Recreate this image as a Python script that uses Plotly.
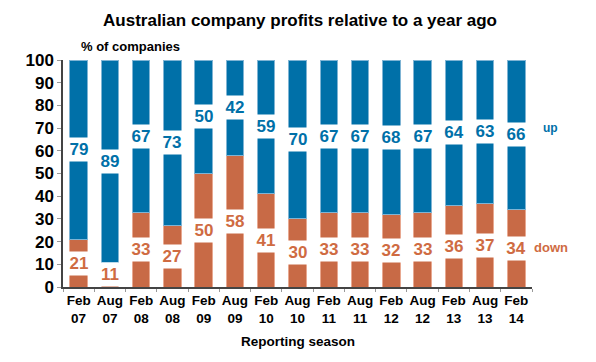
import plotly.graph_objects as go

categories = ["Feb<br>07", "Aug<br>07", "Feb<br>08", "Aug<br>08", "Feb<br>09", "Aug<br>09",
              "Feb<br>10", "Aug<br>10", "Feb<br>11", "Aug<br>11", "Feb<br>12", "Aug<br>12",
              "Feb<br>13", "Aug<br>13", "Feb<br>14"]
down = [21, 11, 33, 27, 50, 58, 41, 30, 33, 33, 32, 33, 36, 37, 34]
up = [79, 89, 67, 73, 50, 42, 59, 70, 67, 67, 68, 67, 64, 63, 66]

BLUE = "#0070A8"
ORANGE = "#C86A46"
ORANGE_TXT = "#CF6B42"
FONT = "Liberation Sans"

fig = go.Figure()
fig.add_trace(go.Bar(x=categories, y=down, name="down", marker=dict(color=ORANGE, line=dict(color="#E8A890", width=1)),
                     width=0.56))
fig.add_trace(go.Bar(x=categories, y=up, name="up", marker=dict(color=BLUE, line=dict(color="#7FB4D4", width=1)),
                     width=0.56))

for c, d, u in zip(categories, down, up):
    fig.add_annotation(x=c, y=d / 2, text=f"<b>{d}</b>", showarrow=False, bgcolor="white",
                       font=dict(family=FONT, size=17, color=ORANGE_TXT), borderpad=2, width=24)
    fig.add_annotation(x=c, y=d + u / 2, text=f"<b>{u}</b>", showarrow=False, bgcolor="white",
                       font=dict(family=FONT, size=17, color=BLUE), borderpad=2, width=24)

fig.add_annotation(xref="paper", yref="y", x=1.02, y=70, xanchor="left", text="<b>up</b>", showarrow=False,
                   font=dict(family=FONT, size=12, color=BLUE))
fig.add_annotation(xref="paper", yref="y", x=1.0, y=17.5, xanchor="left", text="<b>down</b>", showarrow=False,
                   font=dict(family=FONT, size=13, color=ORANGE_TXT))
fig.add_annotation(xref="paper", yref="paper", x=0.035, y=1.0, yshift=14, xanchor="left", yanchor="middle",
                   text="<b>% of companies</b>", showarrow=False, font=dict(family=FONT, size=13, color="black"))
fig.add_annotation(xref="paper", yref="paper", x=0.5, y=0, yshift=-54, xanchor="center", yanchor="middle",
                   text="<b>Reporting season</b>", showarrow=False, font=dict(family=FONT, size=13.5, color="black"))

fig.update_layout(
    width=596, height=362,
    margin=dict(l=55, r=72, t=52, b=83, autoexpand=False),
    barmode="stack",
    showlegend=False,
    plot_bgcolor="white", paper_bgcolor="white",
    title=dict(text="<b>Australian company profits relative to a year ago</b>", x=0.49, xanchor="center",
               y=0.967, yanchor="middle", font=dict(family=FONT, size=17, color="black")),
)
fig.update_xaxes(showline=True, linecolor="#444444", linewidth=1.5, ticks="outside", tickson="boundaries",
                 ticklen=3, tickcolor="#999999", tickfont=dict(family=FONT, size=13.5, color="black"),
                 tickprefix="<b>", ticksuffix="</b>", showgrid=False, tickangle=0, automargin=False)
fig.update_yaxes(range=[0, 100], dtick=10, showline=True, linecolor="#444444", linewidth=1.5, ticks="outside",
                 ticklen=4, tickcolor="#999999", tickfont=dict(family=FONT, size=17, color="black"),
                 tickprefix="<b>", ticksuffix="</b>", showgrid=False, zeroline=False, automargin=False)

fig.write_html("out.html")
